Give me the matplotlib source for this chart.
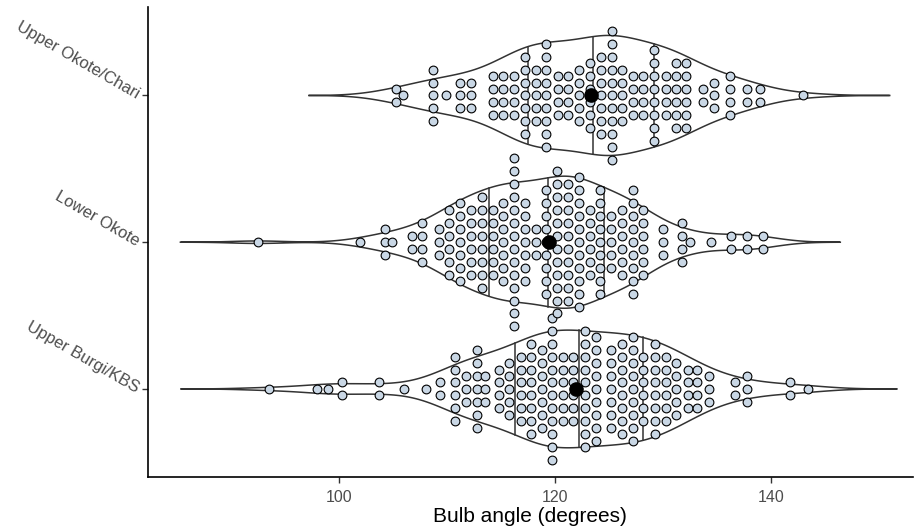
import numpy as np
import matplotlib
matplotlib.use("Agg")
import matplotlib.pyplot as plt

plt.rcParams['font.family'] = ['Liberation Sans', 'DejaVu Sans']

# groups, bottom to top
groups = ["Upper Burgi/KBS", "Lower Okote", "Upper Okote/Chari"]

# bulb angle of each swarm column and how many points sit in it
burgi_vals = [93.5, 97.9, 98.9, 100.2, 103.7, 106.0, 108.0, 109.3, 110.7, 111.7,
              112.8, 113.5, 114.8, 115.7, 116.8, 117.8, 118.8, 119.7, 120.7, 121.7,
              122.8, 123.8, 125.2, 126.2, 127.2, 128.2, 129.3, 130.3, 131.2, 132.3,
              133.2, 134.3, 136.7, 137.8, 141.8, 143.5]
burgi_counts = [1, 1, 1, 2, 2, 1, 1, 2, 6, 3,
                7, 3, 4, 5, 6, 8, 7, 12, 6, 6,
                10, 9, 7, 8, 9, 6, 8, 6, 5, 4,
                4, 3, 2, 3, 2, 1]

lower_vals = [92.4, 101.9, 104.2, 104.9, 106.7, 107.7, 109.2, 110.2, 111.2, 112.2,
              113.2, 114.2, 115.2, 116.2, 117.2, 118.2, 119.2, 120.2, 121.2, 122.2,
              123.2, 124.2, 125.2, 126.2, 127.2, 128.2, 130.0, 131.8, 132.5, 134.5,
              136.3, 137.8, 139.3]
lower_counts = [1, 1, 3, 1, 2, 4, 3, 6, 7, 6,
                8, 6, 7, 14, 7, 3, 9, 12, 10, 11,
                6, 9, 5, 6, 9, 6, 3, 4, 1, 1,
                2, 2, 2]

upper_vals = [105.2, 105.9, 108.7, 109.9, 111.2, 112.2, 114.2, 115.2, 116.2, 117.2,
              118.2, 119.2, 120.3, 121.2, 122.2, 123.2, 124.3, 125.3, 126.2, 127.2,
              128.2, 129.2, 130.3, 131.2, 132.1, 133.7, 134.7, 136.2, 137.8, 139.0,
              143.0]
upper_counts = [2, 1, 5, 1, 3, 3, 4, 4, 4, 7,
                5, 9, 4, 4, 5, 6, 7, 11, 5, 4,
                4, 8, 4, 6, 6, 2, 3, 4, 2, 2,
                1]

xticks = [100, 120, 140]

data = [(burgi_vals, burgi_counts), (lower_vals, lower_counts), (upper_vals, upper_counts)]

dot_step = 0.0883      # vertical distance between stacked points
point_fill = "#C9D7E5"
line_col = "#333333"


# kernel density like R density(bw = "nrd0"), not trimmed
def density(x, n=512, cut=3):
    x = np.asarray(x, dtype=float)
    q75, q25 = np.percentile(x, [75, 25])
    bw = 0.9 * min(np.std(x, ddof=1), (q75 - q25) / 1.34) * len(x) ** (-0.2)
    grid = np.linspace(x.min() - cut * bw, x.max() + cut * bw, n)
    d = np.exp(-0.5 * ((grid[:, None] - x[None, :]) / bw) ** 2).sum(axis=1)
    d = d / (len(x) * bw * np.sqrt(2 * np.pi))
    return grid, d


fig = plt.figure(figsize=(9.2, 5.3), dpi=100)
ax = fig.add_axes([0.1604, 0.1, 0.832, 0.886])

samples = [np.repeat(v, c) for v, c in data]
dens = [density(s) for s in samples]
dmax = max(d.max() for g, d in dens)

for pos, (s, (grid, d)) in enumerate(zip(samples, dens), start=1):
    w = d / dmax * 0.45
    # violin outline
    ax.fill(np.concatenate([grid, grid[::-1]]),
            np.concatenate([pos + w, (pos - w)[::-1]]),
            facecolor="white", edgecolor=line_col, lw=1.1, zorder=1)
    # quartile lines from the density
    cdf = np.cumsum(d) / d.sum()
    for q in [0.25, 0.5, 0.75]:
        xq = np.interp(q, cdf, grid)
        wq = np.interp(xq, grid, w)
        ax.plot([xq, xq], [pos - wq, pos + wq], color=line_col, lw=1.1, zorder=2)

# swarm points, each column centred on its group
for pos, (vals, counts) in enumerate(data, start=1):
    xs, ys = [], []
    for v, c in zip(vals, counts):
        for k in range(c):
            xs.append(v)
            ys.append(pos + (k - (c - 1) / 2) * dot_step)
    ax.plot(xs, ys, 'o', ms=6.3, mfc=point_fill, mec="black", mew=0.8, zorder=3)

# group means
means = [s.mean() for s in samples]
ax.plot(means, [1, 2, 3], 'o', ms=9.5, color="black", zorder=4)

ax.set_xlim(82.2, 153.2)
ax.set_ylim(0.4, 3.6)
ax.set_xticks(xticks)
ax.set_yticks([1, 2, 3])
ax.set_yticklabels(groups, rotation=-30, ha="right", va="center",
                   rotation_mode="anchor", fontsize=12)
ax.set_xlabel("Bulb angle (degrees)", fontsize=15, color="black", labelpad=2)

for side in ["top", "right"]:
    ax.spines[side].set_visible(False)
for side in ["left", "bottom"]:
    ax.spines[side].set_linewidth(1.2)
ax.tick_params(axis="both", length=4, width=1.0, color="#333333",
               labelcolor="#4D4D4D")
ax.tick_params(axis="x", labelsize=11.5, pad=5)
ax.tick_params(axis="y", pad=3)

fig.savefig("out.png", dpi=100)
